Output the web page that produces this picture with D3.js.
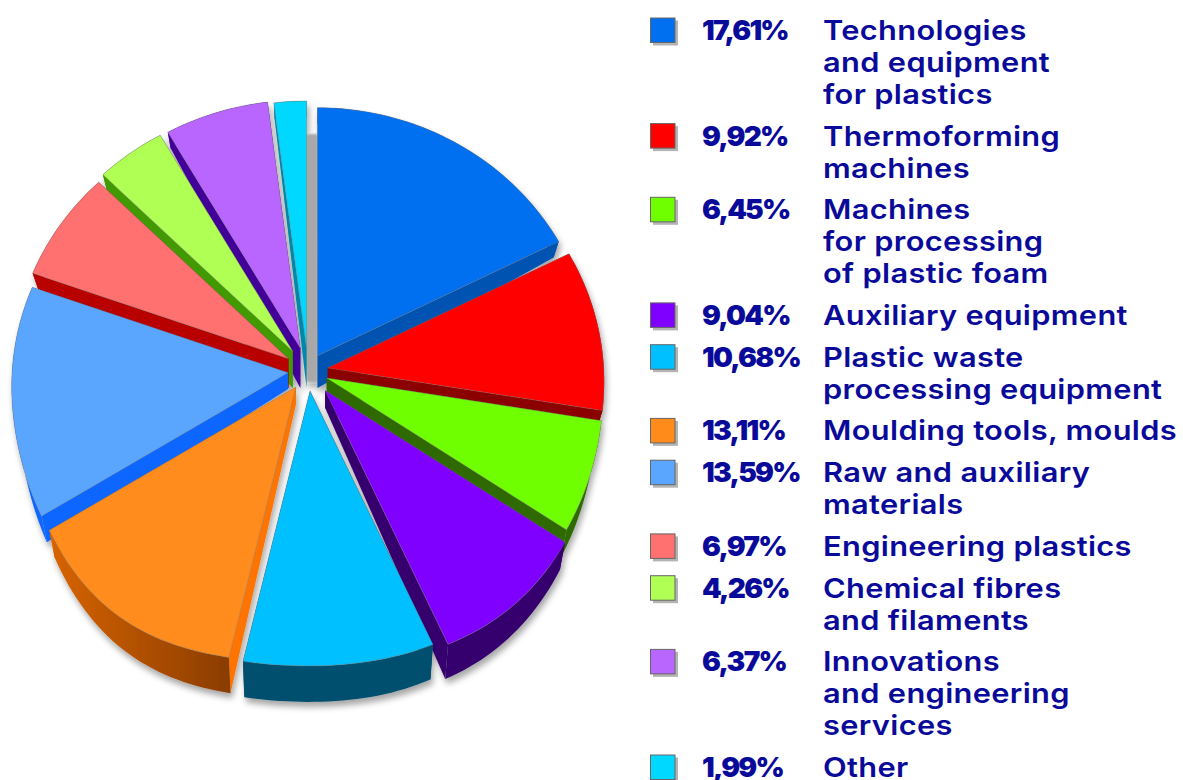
<!DOCTYPE html>
<html><head><meta charset="utf-8">
<script src="https://cdn.jsdelivr.net/npm/d3@7/dist/d3.min.js"></script>
<style>html,body{margin:0;padding:0;background:#fff;overflow:hidden}svg{display:block}</style>
</head><body><script>
const shares=[17.61,9.92,6.45,9.04,10.68,13.11,13.59,6.97,4.26,6.37,1.99];
const pctLabels=["17,61%","9,92%","6,45%","9,04%","10,68%","13,11%","13,59%","6,97%","4,26%","6,37%","1,99%"];
const labelLines=[["Technologies","and equipment","for plastics"],["Thermoforming","machines"],["Machines","for processing","of plastic foam"],["Auxiliary equipment"],["Plastic waste","processing equipment"],["Moulding tools, moulds"],["Raw and auxiliary","materials"],["Engineering plastics"],["Chemical fibres","and filaments"],["Innovations","and engineering","services"],["Other"]];
const topColors=["#0070f0","#ff0000","#70ff00","#8000ff","#00c0ff","#ff8c1a","#5aa6ff","#ff7070","#b0ff55","#b866ff","#00d8ff"];
const wallColors=["#0052b0","#8b0000","#2f6b00","#35006e","#00506e","#ff7300","#0a66ff","#b80000","#3f9a00","#430099","#0088aa"];
const rimColors=["#0052b0","#8b0000","#2f6b00","#35006e","#00506e","url(#orangeRim)","#0a66ff","#b80000","#3f9a00","#430099","#0088aa"];
const explodeBy=[18,20,20,26,20,20,20,23,25,24,22];
const paintOrder=[10,0,9,8,1,7,2,6,3,5,4];

const W=1183,H=780,cx=308,cy=371,rx=276,ry=260.8,persp=0.0516;
const svg=d3.select("body").append("svg").attr("width",W).attr("height",H);
const defs=svg.append("defs");
const f=defs.append("filter").attr("id","soft").attr("x","-10%").attr("y","-10%").attr("width","120%").attr("height","120%");
f.append("feDropShadow").attr("dx",2).attr("dy",5).attr("stdDeviation",3).attr("flood-color","#000").attr("flood-opacity",.35);
defs.append("filter").attr("id","blur1").append("feGaussianBlur").attr("stdDeviation",1.2);
const g0=defs.append("linearGradient").attr("id","orangeRim").attr("x1",0).attr("x2",1).attr("y1",0).attr("y2",0);
g0.append("stop").attr("offset","0%").attr("stop-color","#d86400");
g0.append("stop").attr("offset","100%").attr("stop-color","#8a3c00");

const arcs=d3.pie().sort(null).value(d=>d).startAngle(0).endAngle(2*Math.PI)(shares);
const line=d3.line();
function apex(a){const m=(a.startAngle+a.endAngle)/2,e=explodeBy[a.index];return [cx+e*Math.sin(m),cy-e*Math.cos(m)];}
function rimPt(a,t){
  const A=apex(a),w=1+persp*Math.cos(t),s2=Math.sin(2*t);
  const bulge=Math.cos(t)<0?(Math.sin(t)>0?10:16)*s2*s2:0;
  return [A[0]+rx*Math.sin(t)/w,A[1]-ry*Math.cos(t)/w+bulge];
}
function down(p){const d=16+20*Math.max(0,Math.min(1,(p[1]-370)/290));return [p[0]+(cx-p[0])*0.02,p[1]+d];}
function rimPts(a){const n=Math.max(4,Math.ceil((a.endAngle-a.startAngle)*40));
  return d3.range(n+1).map(i=>rimPt(a,a.startAngle+(a.endAngle-a.startAngle)*i/n));}

const pie=svg.append("g").attr("filter","url(#soft)");
// shadow cast by the narrow rear slice into the gap beside the first slice
{const sh=arcs[10],A=apex(sh),rs=rimPts(sh);
 pie.append("path").attr("d",line([...rs,[A[0],A[1]],[A[0]-11,A[1]]])+"Z").attr("fill","#a8a8a8").attr("filter","url(#blur1)")
   .attr("transform","translate(11,33)");}
paintOrder.forEach(i=>{
  const a=arcs[i],A=apex(a),rim=rimPts(a),d=down(A),A2=[A[0],Math.max(d[1],388)];
  const first=rim[0],last=rim[rim.length-1];
  pie.append("path").attr("d",line([A,first,down(first),A2])+"Z").attr("fill",wallColors[i]);
  pie.append("path").attr("d",line([A,last,down(last),A2])+"Z").attr("fill",wallColors[i]);
  pie.append("path").attr("d",line([...rim,...rim.slice().reverse().map(down)])+"Z").attr("fill",rimColors[i]);
  pie.append("path").attr("d",line([A,...rim])+"Z").attr("fill",topColors[i]).attr("stroke","#777").attr("stroke-width",.4);
});

const lineH=31.9,gap=9.9,ink="#0a0a9a",font="Inter, 'Open Sans', sans-serif";
let y=30.5;
const legend=svg.append("g");
shares.forEach((s,i)=>{
  legend.append("rect").attr("x",653).attr("y",y-10).attr("width",25).attr("height",25).attr("fill","#b4b4b4");
  legend.append("rect").attr("x",650.5).attr("y",y-12.5).attr("width",24.5).attr("height",24.5).attr("fill",topColors[i]).attr("stroke","#666").attr("stroke-width",1);
  legend.append("text").attr("transform",`translate(702,${y+9.5}) scale(1.02,1)`).text(pctLabels[i])
    .attr("font-family",font).attr("font-weight",900).attr("font-size",27.5).attr("letter-spacing",-1.7).attr("fill",ink);
  labelLines[i].forEach((l,j)=>{
    legend.append("text").attr("transform",`translate(823,${y+9.5+j*lineH}) scale(1.12,1)`).text(l)
      .attr("font-family",font).attr("font-weight",600).attr("font-size",27.5).attr("letter-spacing",.3).attr("fill",ink);
  });
  y+=labelLines[i].length*lineH+gap;
});
</script></body></html>
